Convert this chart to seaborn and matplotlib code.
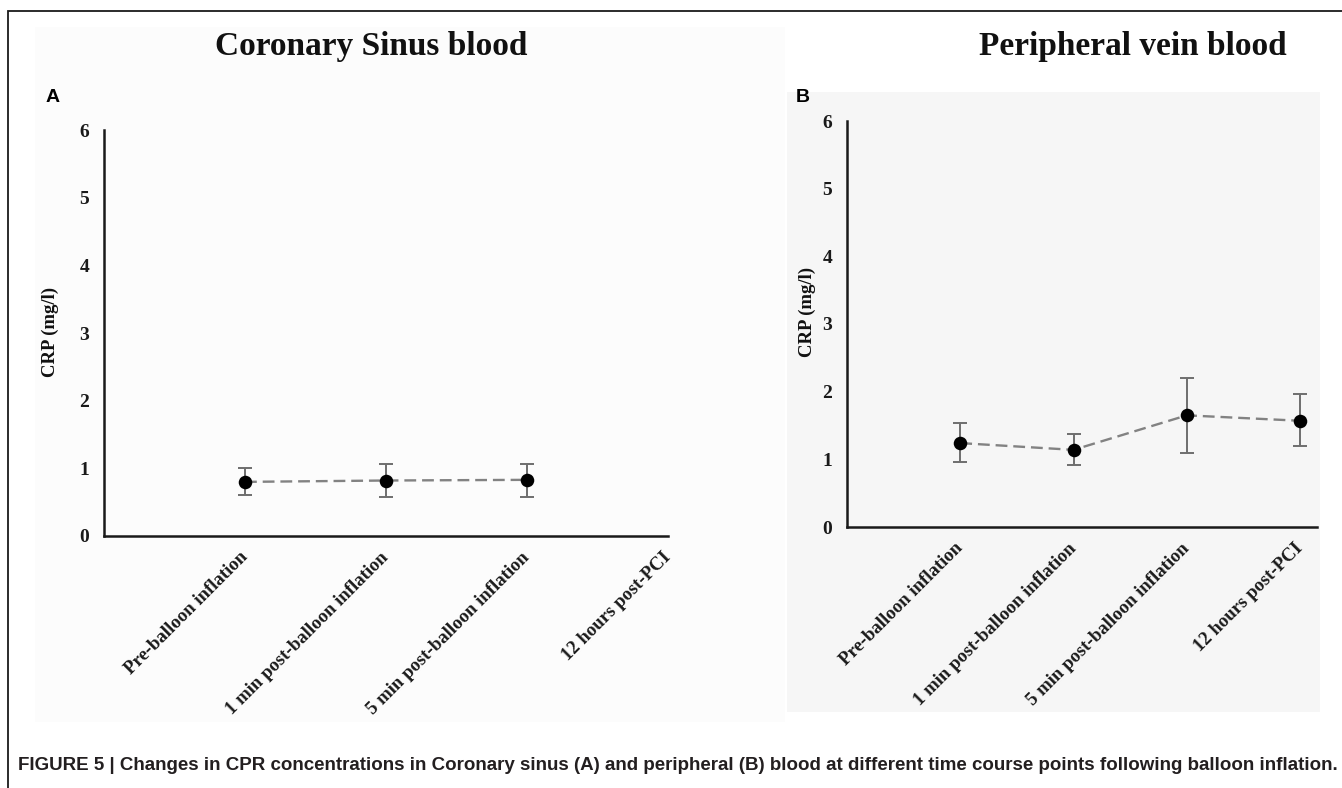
import numpy as np
import pandas as pd
import matplotlib
matplotlib.use("Agg")
import matplotlib.pyplot as plt
from matplotlib.patches import Rectangle
import seaborn as sns

# ---------------- data ----------------
categories = ["Pre-balloon inflation", "1 min post-balloon inflation",
              "5 min post-balloon inflation", "12 hours post-PCI"]

cs_mean = [0.80, 0.82, 0.83]
cs_low = [0.60, 0.58, 0.58]
cs_high = [1.01, 1.06, 1.07]

pv_mean = [1.24, 1.14, 1.65, 1.57]
pv_low = [0.96, 0.91, 1.10, 1.19]
pv_high = [1.53, 1.37, 2.20, 1.96]

y_ticks = [0, 1, 2, 3, 4, 5, 6]
titles = ["Coronary Sinus blood", "Peripheral vein blood"]
panel_letters = ["A", "B"]
y_label = "CRP (mg/l)"
caption = ("FIGURE 5 | Changes in CPR concentrations in Coronary sinus (A) and peripheral (B) "
           "blood at different time course points following balloon inflation.")

sns.set_theme(style="white")
plt.rcParams["font.family"] = ["Liberation Serif", "DejaVu Serif"]

W, H = 1342, 788
fig = plt.figure(figsize=(W / 100, H / 100), dpi=100)
fig.patch.set_facecolor("white")


def fx(px):
    return px / W


def fy(py):
    return 1 - py / H


# background panels and frame
fig.add_artist(Rectangle((fx(35), fy(722)), fx(785 - 35), (722 - 27) / H,
                         transform=fig.transFigure, facecolor="#fcfcfc",
                         edgecolor="none", zorder=0))
fig.add_artist(Rectangle((fx(787), fy(712)), fx(1320 - 787), (712 - 92) / H,
                         transform=fig.transFigure, facecolor="#f6f6f6",
                         edgecolor="none", zorder=0))
fig.add_artist(Rectangle((fx(8), fy(800)), fx(1400), (800 - 11) / H,
                         transform=fig.transFigure, facecolor="none",
                         edgecolor="#1a1a1a", linewidth=1.3, zorder=1))

serif_bold = dict(family=["Liberation Serif", "DejaVu Serif"], weight="bold")


def draw_panel(rect_px, means, lows, highs, xmax, title, title_xy, letter, letter_xy,
               ylabel_xy):
    left, right, top, bottom = rect_px
    ax = fig.add_axes([fx(left), fy(bottom), fx(right - left), (bottom - top) / H])
    ax.set_facecolor("none")
    n = len(means)
    df = pd.DataFrame({"pos": np.arange(n), "crp": means})
    sns.lineplot(data=df, x="pos", y="crp", ax=ax, color="#828282",
                 linestyle=(0, (5, 2.5)), linewidth=1.7, zorder=2)
    m = np.array(means)
    yerr = np.vstack([m - np.array(lows), np.array(highs) - m])
    ax.errorbar(df["pos"], m, yerr=yerr, fmt="none", ecolor="#6e6e6e",
                elinewidth=1.4, capsize=5, capthick=1.4, zorder=3)
    sns.scatterplot(data=df, x="pos", y="crp", ax=ax, color="black", s=95,
                    edgecolor="black", linewidth=0, zorder=4)
    ax.set_xlim(-1, xmax)
    ax.set_ylim(0, 6)
    ax.set_xticks(range(len(categories)))
    ax.set_xticklabels(categories, rotation=45, ha="right", va="center",
                       rotation_mode="anchor", fontsize=13.5, **serif_bold)
    ax.set_yticks(y_ticks)
    ax.set_yticklabels([str(t) for t in y_ticks], fontsize=14, **serif_bold)
    ax.set_xlabel("")
    ax.set_ylabel("")
    for s in ["top", "right"]:
        ax.spines[s].set_visible(False)
    for s in ["left", "bottom"]:
        ax.spines[s].set_color("#1a1a1a")
        ax.spines[s].set_linewidth(1.8)
    ax.tick_params(axis="both", direction="out", length=4.5, width=1.5,
                   color="#1a1a1a", labelcolor="#1a1a1a")
    ax.tick_params(axis="y", pad=6)
    ax.tick_params(axis="x", pad=9)
    ax.grid(False)
    fig.text(fx(title_xy[0]), fy(title_xy[1]), title, ha="center", va="center",
             fontsize=24, color="#111111", **serif_bold)
    fig.text(fx(letter_xy[0]), fy(letter_xy[1]), letter, ha="left", va="center",
             fontsize=14, fontweight="bold", color="black",
             family=["Liberation Sans", "DejaVu Sans"])
    fig.text(fx(ylabel_xy[0]), fy(ylabel_xy[1]), y_label, ha="center", va="center",
             rotation=90, fontsize=13.5, color="#111111", **serif_bold)
    return ax


draw_panel((104, 668, 130, 536), cs_mean, cs_low, cs_high, 3.0,
           titles[0], (371, 46), panel_letters[0], (46, 97), (50, 332))
draw_panel((847, 1317, 121, 527), pv_mean, pv_low, pv_high, 3.15,
           titles[1], (1133, 47), panel_letters[1], (796, 97), (807, 312))

fig.text(fx(18), fy(765), caption, ha="left", va="center", fontsize=13.5,
         fontweight="bold", color="#231f20",
         family=["Liberation Sans", "DejaVu Sans"])

fig.savefig("out.png", dpi=100, facecolor="white")
